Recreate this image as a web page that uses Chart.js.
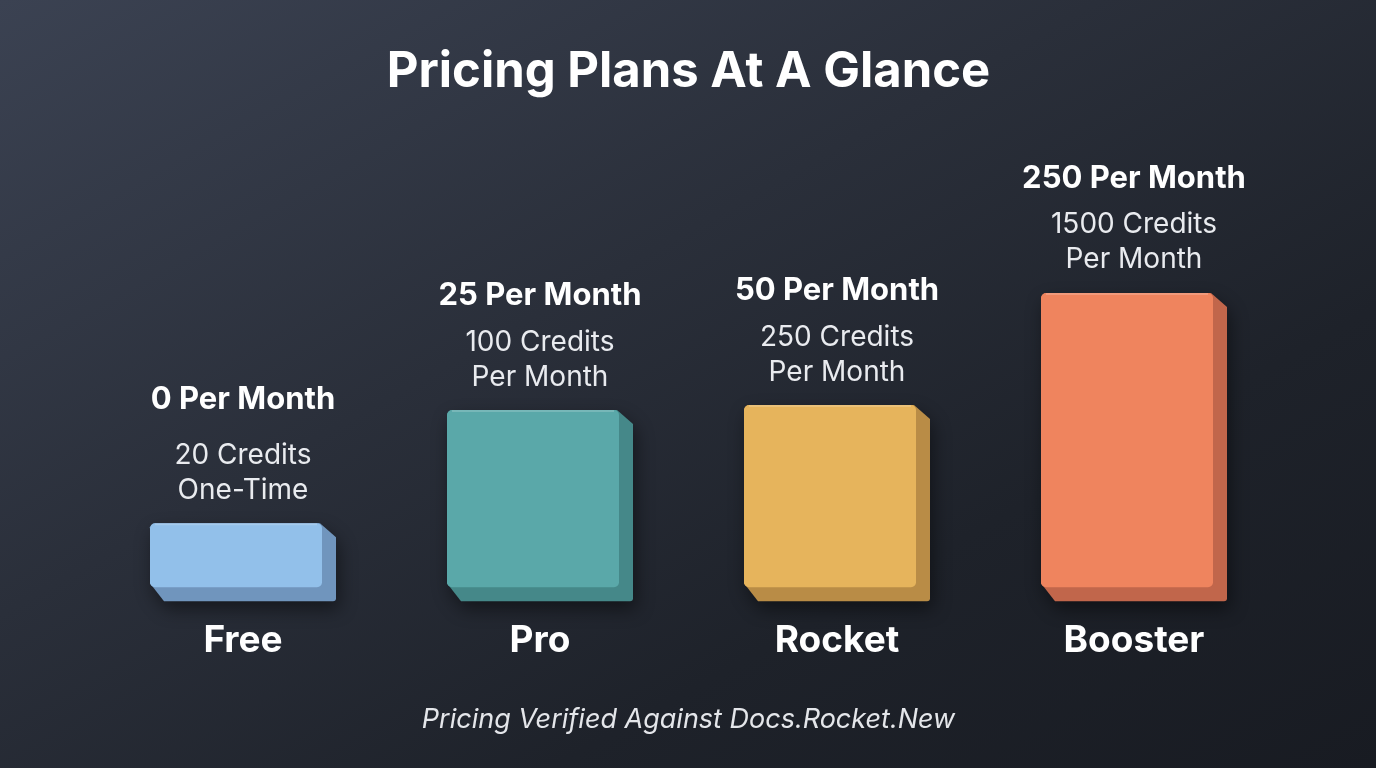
<!DOCTYPE html>
<html><head><meta charset="utf-8">
<script src="https://cdn.jsdelivr.net/npm/chart.js@4"></script>
<style>
html,body{margin:0;padding:0;width:1376px;height:768px;overflow:hidden;background:#23272f;}
#wrap{position:relative;width:1376px;height:768px;background:linear-gradient(to bottom right,#3b4252 0%,#2a2f3a 40%,#1e222a 70%,#181b22 100%);}
canvas{display:block}
</style></head><body><div id="wrap"><canvas id="c" width="1376" height="768"></canvas></div>
<script>
const plans = ['Free', 'Pro', 'Rocket', 'Booster'];
const pricePerMonth = [0, 25, 50, 250];
const credits = [20, 100, 250, 1500];
const creditTerms = ['One-Time', 'Per Month', 'Per Month', 'Per Month'];
const barHeights = [64, 177, 182, 294];
const frontColors = ['#92c0ea', '#5aa8a9', '#e6b45c', '#ef845e'];
const sideColors = ['#7095bd', '#458889', '#b98c46', '#c1664b'];

const FONT = 'Inter, "Noto Sans", "DejaVu Sans", sans-serif';
const DEPTH = 14;

const boxPlugin = {
  id: 'box3d',
  afterDatasetsDraw(chart) {
    const ctx = chart.ctx;
    const meta = chart.getDatasetMeta(0);
    meta.data.forEach((el, i) => {
      const d = DEPTH;
      const L = el.x - el.width / 2;
      const R = L + el.width - d;
      const T = el.y;
      const B = el.base;
      ctx.save();
      ctx.beginPath();
      ctx.moveTo(L + 4, T);
      ctx.lineTo(R - 2, T);
      ctx.lineTo(R + d, T + d);
      ctx.lineTo(R + d, B + d - 3);
      ctx.quadraticCurveTo(R + d, B + d, R + d - 3, B + d);
      ctx.lineTo(L + d, B + d);
      ctx.lineTo(L, B - 4);
      ctx.lineTo(L, T + 4);
      ctx.closePath();
      ctx.shadowColor = 'rgba(0,0,0,0.45)';
      ctx.shadowBlur = 18;
      ctx.shadowOffsetX = 3;
      ctx.shadowOffsetY = 8;
      ctx.fillStyle = sideColors[i];
      ctx.fill();
      ctx.shadowColor = 'transparent';
      ctx.beginPath();
      ctx.roundRect(L, T, R - L, B - T, 5);
      ctx.fillStyle = frontColors[i];
      ctx.fill();
      ctx.beginPath();
      ctx.moveTo(L + 5, T + 1);
      ctx.lineTo(R - 5, T + 1);
      ctx.strokeStyle = 'rgba(255,255,255,0.18)';
      ctx.lineWidth = 2;
      ctx.stroke();
      ctx.restore();

      const cx = el.x;
      ctx.save();
      ctx.textAlign = 'center';
      ctx.textBaseline = 'middle';
      ctx.fillStyle = '#ffffff';
      ctx.font = 'bold 31px ' + FONT;
      ctx.fillText(pricePerMonth[i] + ' Per Month', cx, T - 114 - (i === 0 ? 9 : 0));
      ctx.fillStyle = '#e9ebef';
      ctx.font = '28px ' + FONT;
      ctx.fillText(credits[i] + ' Credits', cx, T - 68);
      ctx.fillText(creditTerms[i], cx, T - 33);
      ctx.restore();
    });
  }
};

new Chart(document.getElementById('c'), {
  type: 'bar',
  data: {
    labels: plans,
    datasets: [{
      data: barHeights,
      backgroundColor: 'rgba(0,0,0,0)',
      borderWidth: 0,
      barPercentage: 186 / 297,
      categoryPercentage: 1
    }]
  },
  options: {
    responsive: false,
    animation: false,
    devicePixelRatio: 1,
    layout: { padding: { left: 94.5, right: 93.5, top: 0, bottom: 0 } },
    plugins: {
      legend: { display: false },
      tooltip: { enabled: false },
      title: {
        display: true,
        text: 'Pricing Plans At A Glance',
        color: '#ffffff',
        font: { family: FONT, size: 49, weight: 'bold', lineHeight: 1.2 },
        padding: { top: 42.6, bottom: 85.6 }
      },
      subtitle: {
        display: true,
        position: 'bottom',
        text: 'Pricing Verified Against Docs.Rocket.New',
        color: '#e4e6ea',
        font: { family: FONT, size: 27, style: 'italic', weight: 'normal', lineHeight: 1.2 },
        padding: { top: 8, bottom: 31.8 }
      }
    },
    scales: {
      x: {
        grid: { display: false, drawTicks: false },
        border: { display: false },
        ticks: { color: '#ffffff', font: { family: FONT, size: 37, weight: 'bold' }, padding: 31 },
        afterFit(s) { s.height = 108.6; }
      },
      y: { display: false, min: 0, max: 400 }
    }
  },
  plugins: [boxPlugin]
});
</script>
</body></html>
